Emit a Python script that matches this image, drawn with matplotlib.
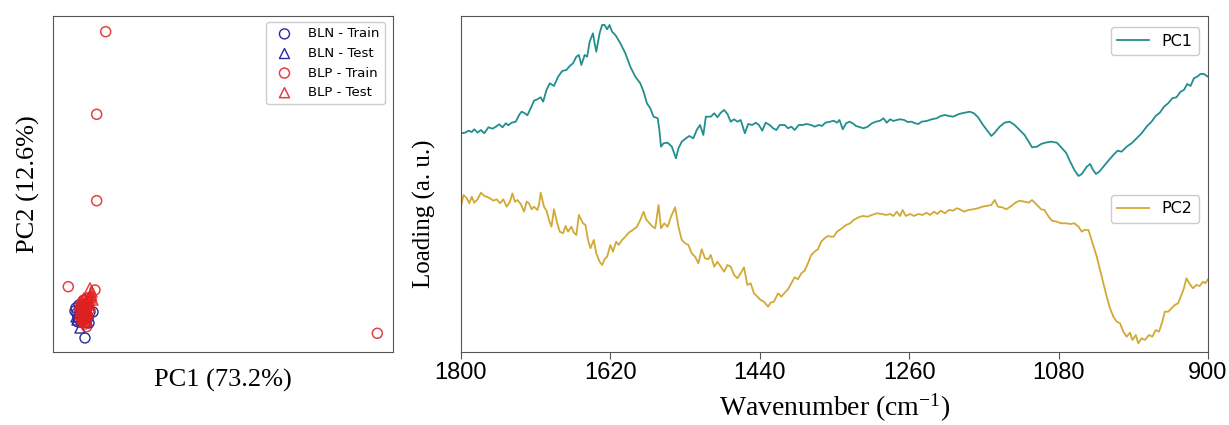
import matplotlib
matplotlib.use("Agg")
import matplotlib.pyplot as plt

# ---- PCA scores (arbitrary units) ----
bln_train_pc1 = [-0.8, -0.7, -0.6, -0.9, -0.5, -0.4, -0.2, 0.0, 0.2, 0.4, 0.6, 0.9, -0.3, 0.1, -0.1, 0.3, -0.6, 0.5]
bln_train_pc2 = [0.4, -0.1, -0.6, 0.1, 0.7, -0.3, 0.2, -0.8, -0.2, -0.6, 0.0, 0.0, -1.0, -2.6, 0.6, 0.4, -1.0, -1.1]
bln_test_pc1 = [-0.8, -0.6, -0.4, -0.2, 0.1, -0.5, 0.3, 0.0, -0.7]
bln_test_pc2 = [-0.5, 0.0, -1.6, -0.6, 0.1, 0.4, -1.0, -0.3, -0.8]
blp_train_pc1 = [2.17, 1.27, 1.27, -1.57, 1.1, 29.33, 0.27, 0.0, 0.1, -0.1, -0.2, 0.0, 0.2, 0.3, 0.1, -0.1, 0.4, -0.3, 0.2,
                 0.0, -0.2, -0.4, -0.3, 0.1, 0.3, -0.2, 0.0, 0.2, -0.1, 0.5, 0.3, -0.4, 0.1, 0.2, -0.2, 0.4]
blp_train_pc2 = [28.03, 19.77, 11.13, 2.53, 2.2, -2.13, -1.47, 1.2, 0.7, 0.2, -0.2, -0.6, 0.0, 0.5, -0.3, -0.8, 1.0, 0.6, -1.0,
                 0.3, 0.9, 0.0, -0.5, -0.6, -0.4, 0.5, 0.0, 0.8, 1.1, 0.2, 1.3, 0.4, -1.2, 0.3, -0.9, 0.6]
blp_test_pc1 = [0.6, 0.77, 0.9, 0.5, 0.2, 0.0, 0.1, -0.1, 0.3, 0.4, -0.2, 0.2, 0.0, 0.6, 0.8,
                0.0, -0.3, 0.1, 0.3, -0.1, 0.5, 0.2, -0.4, 0.4, 0.7, 0.1, -0.2]
blp_test_pc2 = [2.4, 1.7, 1.2, 1.5, 1.0, 0.6, 0.1, -0.3, 0.3, -0.2, 0.3, -0.6, -1.0, 0.7, 2.0,
                1.4, 0.1, 0.9, -0.8, -0.6, 1.1, -0.3, -0.2, 0.0, 1.4, 0.4, 0.8]

# ---- loadings (a. u.) ----
pc1_wn = [1800, 1795, 1791, 1787, 1784, 1780, 1776, 1772, 1767, 1762, 1758, 1754, 1750, 1746, 1743, 1739,
          1734, 1730, 1727, 1723, 1720, 1716, 1712, 1708, 1704, 1701, 1697, 1693, 1688, 1683, 1678, 1673,
          1669, 1665, 1661, 1658, 1655, 1651, 1648, 1645, 1641, 1639, 1637, 1633, 1630, 1627, 1624, 1621,
          1618, 1614, 1608, 1602, 1596, 1590, 1584, 1580, 1576, 1572, 1568, 1563, 1561, 1559, 1556, 1551,
          1546, 1541, 1538, 1534, 1529, 1525, 1520, 1516, 1512, 1508, 1505, 1499, 1495, 1491, 1487, 1483,
          1479, 1475, 1471, 1467, 1463, 1458, 1454, 1449, 1445, 1441, 1437, 1433, 1428, 1424, 1420, 1416,
          1410, 1406, 1402, 1398, 1393, 1388, 1384, 1378, 1374, 1369, 1365, 1361, 1355, 1351, 1347, 1344,
          1340, 1336, 1332, 1328, 1324, 1319, 1315, 1310, 1305, 1300, 1295, 1291, 1287, 1283, 1279, 1275,
          1271, 1266, 1262, 1257, 1253, 1249, 1245, 1239, 1233, 1227, 1222, 1217, 1212, 1207, 1200, 1193,
          1187, 1182, 1177, 1171, 1165, 1161, 1157, 1151, 1145, 1139, 1133, 1127, 1121, 1116, 1112, 1106,
          1101, 1096, 1089, 1082, 1077, 1071, 1066, 1061, 1056, 1052, 1046, 1042, 1039, 1035, 1031, 1026,
          1020, 1014, 1009, 1004, 998, 992, 986, 980, 974, 968, 963, 958, 953, 948, 943, 938,
          933, 929, 925, 921, 917, 913, 909, 905, 900]
pc1_load = [2.167, 2.173, 2.193, 2.180, 2.207, 2.173, 2.200, 2.167, 2.227, 2.213, 2.233, 2.257, 2.227, 2.267, 2.247, 2.273,
            2.283, 2.350, 2.383, 2.367, 2.347, 2.417, 2.493, 2.507, 2.527, 2.483, 2.600, 2.667, 2.640, 2.733, 2.790, 2.800,
            2.840, 2.867, 2.933, 2.950, 2.850, 2.950, 2.933, 3.083, 3.167, 3.067, 2.983, 3.167, 3.250, 3.250, 3.207, 3.250,
            3.183, 3.150, 3.067, 2.967, 2.833, 2.733, 2.667, 2.583, 2.467, 2.417, 2.333, 2.317, 2.200, 2.033, 2.067, 2.073,
            2.033, 1.917, 2.017, 2.083, 2.117, 2.140, 2.117, 2.200, 2.250, 2.150, 2.333, 2.333, 2.367, 2.327, 2.373, 2.400,
            2.360, 2.283, 2.307, 2.283, 2.300, 2.167, 2.260, 2.250, 2.273, 2.250, 2.193, 2.273, 2.250, 2.217, 2.200, 2.250,
            2.250, 2.217, 2.233, 2.200, 2.250, 2.250, 2.260, 2.250, 2.233, 2.250, 2.240, 2.273, 2.283, 2.293, 2.273, 2.300,
            2.207, 2.267, 2.283, 2.267, 2.240, 2.227, 2.217, 2.233, 2.267, 2.283, 2.293, 2.317, 2.273, 2.307, 2.290, 2.300,
            2.307, 2.300, 2.280, 2.283, 2.267, 2.260, 2.283, 2.290, 2.307, 2.317, 2.340, 2.350, 2.340, 2.333, 2.360, 2.373,
            2.383, 2.367, 2.327, 2.250, 2.183, 2.140, 2.173, 2.233, 2.273, 2.283, 2.250, 2.200, 2.150, 2.083, 2.027, 2.033,
            2.060, 2.073, 2.083, 2.073, 2.027, 1.973, 1.883, 1.800, 1.740, 1.760, 1.833, 1.860, 1.807, 1.760, 1.783, 1.833,
            1.893, 1.950, 1.993, 1.983, 2.033, 2.067, 2.117, 2.167, 2.233, 2.283, 2.340, 2.373, 2.433, 2.467, 2.517, 2.527,
            2.583, 2.600, 2.660, 2.640, 2.717, 2.733, 2.760, 2.760, 2.733]

pc2_wn = [1800, 1797, 1793, 1790, 1787, 1784, 1780, 1776, 1772, 1769, 1765, 1761, 1757, 1753, 1749, 1745,
          1741, 1738, 1735, 1732, 1728, 1724, 1721, 1718, 1715, 1712, 1708, 1706, 1704, 1700, 1697, 1694,
          1691, 1688, 1684, 1681, 1677, 1674, 1671, 1667, 1664, 1661, 1658, 1653, 1650, 1647, 1644, 1640,
          1637, 1633, 1630, 1627, 1624, 1620, 1617, 1613, 1610, 1606, 1602, 1598, 1593, 1588, 1584, 1580,
          1577, 1573, 1569, 1566, 1562, 1559, 1555, 1551, 1547, 1542, 1538, 1534, 1530, 1526, 1522, 1518,
          1514, 1510, 1506, 1502, 1499, 1495, 1491, 1487, 1483, 1479, 1475, 1471, 1467, 1463, 1459, 1455,
          1451, 1447, 1443, 1439, 1435, 1430, 1427, 1423, 1418, 1414, 1410, 1406, 1402, 1398, 1394, 1390,
          1386, 1382, 1378, 1374, 1370, 1366, 1362, 1358, 1354, 1351, 1347, 1341, 1336, 1331, 1327, 1321,
          1316, 1310, 1305, 1299, 1293, 1288, 1283, 1279, 1275, 1271, 1268, 1264, 1259, 1254, 1249, 1244,
          1239, 1235, 1230, 1226, 1222, 1217, 1212, 1207, 1203, 1199, 1194, 1189, 1183, 1177, 1172, 1167,
          1161, 1157, 1153, 1148, 1143, 1137, 1132, 1127, 1121, 1116, 1112, 1106, 1101, 1097, 1092, 1088,
          1082, 1077, 1071, 1066, 1061, 1056, 1052, 1049, 1044, 1039, 1034, 1030, 1026, 1022, 1018, 1014,
          1010, 1006, 1002, 998, 994, 991, 987, 984, 980, 976, 971, 967, 963, 959, 955, 952,
          948, 944, 940, 936, 932, 929, 926, 922, 918, 914, 910, 906, 903, 900]
pc2_load = [1.433, 1.550, 1.517, 1.467, 1.533, 1.473, 1.507, 1.573, 1.540, 1.533, 1.517, 1.493, 1.507, 1.467, 1.507, 1.433,
            1.483, 1.567, 1.483, 1.500, 1.460, 1.383, 1.483, 1.467, 1.407, 1.433, 1.400, 1.450, 1.573, 1.433, 1.393, 1.300,
            1.233, 1.407, 1.267, 1.183, 1.167, 1.240, 1.183, 1.233, 1.173, 1.150, 1.350, 1.267, 1.250, 1.100, 1.017, 1.100,
            0.967, 0.883, 0.850, 0.907, 0.933, 1.050, 0.983, 1.083, 1.050, 1.100, 1.133, 1.173, 1.200, 1.233, 1.300, 1.383,
            1.307, 1.267, 1.233, 1.217, 1.450, 1.217, 1.267, 1.233, 1.333, 1.427, 1.233, 1.100, 1.067, 1.050, 0.967, 0.933,
            0.867, 1.007, 0.917, 0.907, 0.950, 0.833, 0.883, 0.833, 0.783, 0.850, 0.833, 0.750, 0.717, 0.767, 0.827, 0.650,
            0.667, 0.567, 0.533, 0.500, 0.483, 0.433, 0.473, 0.483, 0.567, 0.533, 0.573, 0.607, 0.667, 0.727, 0.707, 0.767,
            0.793, 0.867, 0.950, 0.983, 1.007, 1.083, 1.117, 1.140, 1.133, 1.133, 1.183, 1.217, 1.250, 1.267, 1.300, 1.327,
            1.340, 1.333, 1.350, 1.367, 1.360, 1.350, 1.360, 1.340, 1.383, 1.340, 1.400, 1.340, 1.360, 1.340, 1.360, 1.350,
            1.373, 1.350, 1.383, 1.360, 1.393, 1.367, 1.400, 1.393, 1.417, 1.407, 1.383, 1.400, 1.407, 1.417, 1.433, 1.440,
            1.450, 1.500, 1.433, 1.427, 1.407, 1.440, 1.473, 1.493, 1.483, 1.473, 1.500, 1.450, 1.407, 1.400, 1.333, 1.293,
            1.283, 1.267, 1.267, 1.260, 1.267, 1.233, 1.183, 1.200, 1.200, 1.067, 0.933, 0.800, 0.667, 0.533, 0.417, 0.333,
            0.283, 0.267, 0.183, 0.133, 0.173, 0.100, 0.150, 0.067, 0.117, 0.100, 0.150, 0.133, 0.200, 0.183, 0.283, 0.383,
            0.383, 0.417, 0.450, 0.467, 0.550, 0.617, 0.717, 0.660, 0.617, 0.650, 0.640, 0.683, 0.667, 0.707]

wn_ticks = [1800, 1620, 1440, 1260, 1080, 900]

plt.rcParams['mathtext.fontset'] = 'custom'
plt.rcParams['mathtext.rm'] = 'Liberation Serif'
plt.rcParams['mathtext.it'] = 'Liberation Serif:italic'

BLUE = '#2a2a9e'
RED = '#e02020'
SPINE = '#555555'

fig = plt.figure(figsize=(12.29, 4.25), dpi=100)

# ---------------- score plot ----------------
ax1 = fig.add_axes([0.0431, 0.1718, 0.2767, 0.7913])
ax1.scatter(bln_train_pc1, bln_train_pc2, s=52, marker='o', facecolors='none', edgecolors=BLUE,
            linewidths=1.0, label='BLN - Train')
ax1.scatter(bln_test_pc1, bln_test_pc2, s=52, marker='^', facecolors='none', edgecolors=BLUE,
            linewidths=1.0, label='BLN - Test')
ax1.scatter(blp_train_pc1, blp_train_pc2, s=52, marker='o', facecolors='none', edgecolors=RED,
            linewidths=1.1, alpha=0.85, label='BLP - Train')
ax1.scatter(blp_test_pc1, blp_test_pc2, s=52, marker='^', facecolors='none', edgecolors=RED,
            linewidths=1.1, alpha=0.85, label='BLP - Test')
ax1.set_xlim(-3.1, 30.9)
ax1.set_ylim(-4.0, 29.63)
ax1.set_xticks([])
ax1.set_yticks([])
ax1.set_xlabel('PC1 (73.2%)', fontsize=19, family='Liberation Serif', labelpad=12)
ax1.set_ylabel('PC2 (12.6%)', fontsize=19, family='Liberation Serif', labelpad=9)
ax1.legend(loc='upper right', bbox_to_anchor=(0.976, 0.981), borderaxespad=0, fontsize=9.5,
           handletextpad=0.8, framealpha=1.0)
for sp in ax1.spines.values():
    sp.set_color(SPINE)

# ---------------- loadings ----------------
ax2 = fig.add_axes([0.3751, 0.1718, 0.6078, 0.7913])
l1, = ax2.plot(pc1_wn, pc1_load, color='#238e8e', lw=1.3, label='PC1')
l2, = ax2.plot(pc2_wn, pc2_load, color='#d3a935', lw=1.3, label='PC2')
ax2.set_xlim(1800, 900)
ax2.set_ylim(-0.02, 3.343)
ax2.set_xticks(wn_ticks)
ax2.set_yticks([])
for lab in ax2.get_xticklabels():
    lab.set_family('Liberation Sans')
    lab.set_fontsize(17)
ax2.tick_params(axis='x', length=5, color=SPINE, pad=2)
ax2.set_xlabel(r'Wavenumber (cm$^{-1}$)', fontsize=20, family='Liberation Serif', labelpad=6)
ax2.set_ylabel('Loading (a. u.)', fontsize=18, family='Liberation Serif', labelpad=10)
ax2.yaxis.set_label_coords(-0.033, 0.41)
leg1 = ax2.legend(handles=[l1], loc='upper right', bbox_to_anchor=(0.988, 0.966), borderaxespad=0,
                  fontsize=11.5, framealpha=1.0)
ax2.add_artist(leg1)
ax2.legend(handles=[l2], loc='upper right', bbox_to_anchor=(0.988, 0.467), borderaxespad=0,
           fontsize=11.5, framealpha=1.0)
for sp in ax2.spines.values():
    sp.set_color(SPINE)

fig.savefig('out.png', dpi=100)
